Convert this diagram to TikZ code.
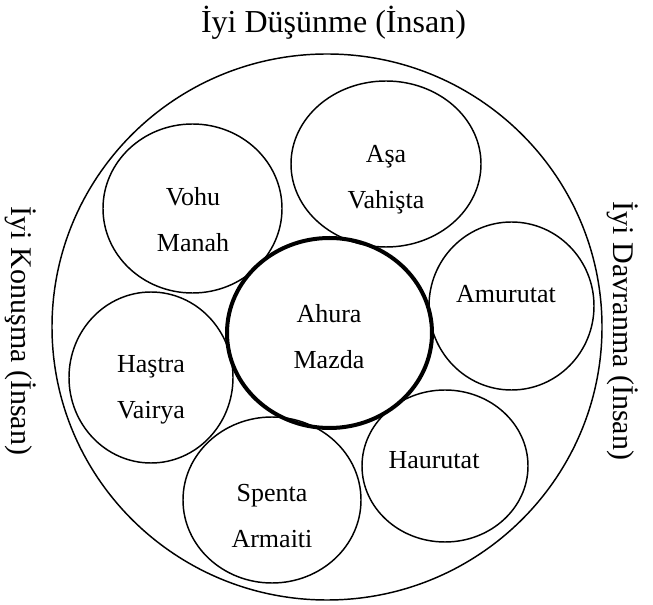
\documentclass[tikz,border=0pt]{standalone}
\usepackage{fontspec}
\setmainfont{Liberation Serif}
\usetikzlibrary{shapes.geometric}
\begin{document}
\begin{tikzpicture}[x=0.75pt,y=-0.75pt,
	ring/.style={draw,ellipse,inner sep=0pt,line width=1.1pt},
	core/.style={ring,line width=3pt},
	deity/.style={font=\fontsize{19.5}{34.5}\selectfont,align=center,anchor=base},
	virtue/.style={font=\fontsize{22.5}{27}\selectfont,anchor=base}]
			\useasboundingbox (0,0) rectangle (653,605);
			\coordinate (O) at (327,327);
			\coordinate (AM) at (329.5,333);
			\coordinate (VM) at (192.5,208.5);
			\coordinate (AV) at (386,164);
			\coordinate (AU) at (511.5,306);
			\coordinate (HU) at (445,466);
			\coordinate (HV) at (151,377.5);
			\coordinate (SA) at (272,500);
			\node[ring,minimum width=412.5pt,minimum height=409.5pt] (outer) at (O) {};
			\node[core,minimum width=153.75pt,minimum height=142.5pt] (ahura) at (AM) {};
			\node[ring,minimum width=134.25pt,minimum height=126.75pt] (vohu) at (VM) {};
			\node[ring,minimum width=142.5pt,minimum height=124.5pt] (asa) at (AV) {};
			\node[ring,minimum width=123.75pt,minimum height=126pt] (amur) at (AU) {};
			\node[ring,minimum width=124.5pt,minimum height=114pt] (haur) at (HU) {};
			\node[ring,minimum width=123pt,minimum height=128.25pt] (hastra) at (HV) {};
			\node[ring,minimum width=133.5pt,minimum height=124.5pt] (spenta) at (SA) {};
			% base of a two-line node is its last line
			\node[deity] (ahuratext) at (329,369) {Ahura\\Mazda};
			\node[deity] (vohutext) at (193,252) {Vohu\\Manah};
			\node[deity] (asatext) at (386,209) {Aşa\\Vahişta};
			\node[deity] (amurtext) at (506,303) {Amurutat};
			\node[deity] (haurtext) at (434,469) {Haurutat};
			\node[deity] (hastratext) at (151,419) {Haştra\\Vairya};
			\node[deity] (spentatext) at (272,547) {Spenta\\Armaiti};
			\node[virtue,font=\fontsize{24}{28}\selectfont] (top) at (333.5,33) {İyi Düşünme (İnsan)};
			\node[virtue,rotate=-90] (left) at (12,331) {İyi Konuşma (İnsan)};
			\node[virtue,rotate=-90] (right) at (613,331) {İyi Davranma (İnsan)};
		\end{tikzpicture}
\end{document}
